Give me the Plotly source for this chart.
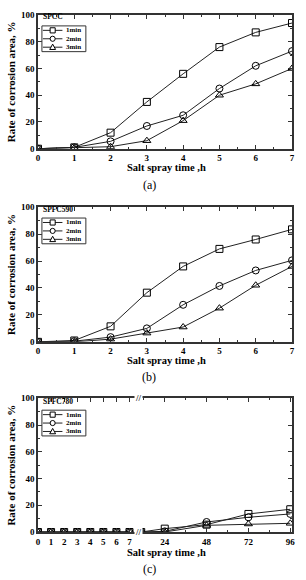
import plotly.graph_objects as go

# ---------------- data ----------------
hours = [0, 1, 2, 3, 4, 5, 6, 7]
series_names = ["1min", "2min", "3min"]

a_1min = [0, 1, 12, 35, 56, 76, 87, 94]
a_2min = [0, 1, 5.5, 17, 25, 45, 62, 73]
a_3min = [0, 0.5, 1.5, 6, 21, 40, 48.5, 60]

b_1min = [0, 1, 11.5, 36.5, 56, 69, 76, 83.5]
b_2min = [0, 0.5, 3.5, 10, 27.5, 41.5, 53, 60.5]
b_3min = [0, 0, 2, 6.5, 11, 25, 42, 56]

c_short_1min = [0, 0, 0, 0, 0, 0, 0, 0]
c_short_2min = [0, 0, 0, 0, 0, 0, 0, 0]
c_short_3min = [0, 0, 0, 0, 0, 0, 0, 0]
c_long_hours = [10.5, 24, 48, 72, 96]
c_long_1min = [0, 2.5, 5.5, 13.5, 17]
c_long_2min = [0, 0.5, 7.5, 11, 13.5]
c_long_3min = [0, 0, 5, 6, 6.5]

y_ticks = [0, 20, 40, 60, 80, 100]
x_ticks_short = [0, 1, 2, 3, 4, 5, 6, 7]
x_ticks_long = [24, 48, 72, 96]

panel_titles = ["SPCC", "SPFC590", "SPFC780"]
captions = ["(a)", "(b)", "(c)"]
x_title = "Salt spray time ,h"
y_title = "Rate of corrosion area, %"

# ---------------- style ----------------
FONT = "Liberation Serif"
symbols = ["square-open", "circle-open", "triangle-up-open"]
LINE = "#222222"
FRAME = "#333333"
W, H = 306, 580
ML, MR, MT, MB = 32, 14, 10, 48
PW, PH = W - ML - MR, H - MT - MB


def py(px):
    return (H - MB - px) / PH


def pxx(px):
    return (px - ML) / PW


dom_a = [py(145), 1.0]
dom_b = [py(340), py(204)]
dom_c = [0.0, py(397)]
split = pxx(135)

fig = go.Figure()


def add_series(xs, ys_list, xa, ya):
    for name, ys, sym in zip(series_names, ys_list, symbols):
        fig.add_trace(go.Scatter(
            x=xs, y=ys, name=name, mode="lines+markers",
            line=dict(color=LINE, width=1),
            marker=dict(symbol=sym, size=7, color="black",
                        line=dict(width=1, color="black")),
            xaxis=xa, yaxis=ya, showlegend=False))


add_series(hours, [a_1min, a_2min, a_3min], "x", "y")
add_series(hours, [b_1min, b_2min, b_3min], "x2", "y2")
add_series(hours, [c_short_1min, c_short_2min, c_short_3min], "x3", "y3")
add_series(c_long_hours, [c_long_1min, c_long_2min, c_long_3min], "x4", "y4")

tickfont = dict(family=FONT, size=9, color="black", weight="bold")
titlefont = dict(family=FONT, size=11, color="black", weight="bold")
xtitlefont = dict(family=FONT, size=10.5, color="black", weight="bold")

common_x = dict(showline=True, linecolor=FRAME, linewidth=1.5, mirror="ticks",
                ticks="inside", ticklen=4, tickcolor=FRAME, tickwidth=1,
                showgrid=False, zeroline=False, tickfont=tickfont)
common_y = dict(showline=True, linecolor=FRAME, linewidth=1.5,
                ticks="inside", ticklen=4, tickcolor=FRAME, tickwidth=1,
                showgrid=False, zeroline=False, tickfont=tickfont,
                range=[0, 100], tickvals=y_ticks,
                minor=dict(ticks="inside", ticklen=2, dtick=10, tickcolor=FRAME))

yt = dict(text=y_title, font=titlefont, standoff=3)

fig.update_layout(
    xaxis=dict(**common_x, domain=[0, 1], anchor="y", range=[0, 7], tickvals=x_ticks_short,
               minor=dict(ticks="inside", ticklen=2, dtick=0.5, tickcolor=FRAME)),
    yaxis=dict(**common_y, domain=dom_a, anchor="x", mirror="ticks", title=yt),
    xaxis2=dict(**common_x, domain=[0, 1], anchor="y2", range=[0, 7], tickvals=x_ticks_short,
                minor=dict(ticks="inside", ticklen=2, dtick=0.5, tickcolor=FRAME)),
    yaxis2=dict(**common_y, domain=dom_b, anchor="x2", mirror="ticks", title=yt),
    xaxis3=dict(**common_x, domain=[0, split], anchor="y3", range=[0, 7.7], tickvals=x_ticks_short),
    yaxis3=dict(**common_y, domain=dom_c, anchor="x3", title=yt),
    xaxis4=dict(**common_x, domain=[split, 1], anchor="y4", range=[9, 97], tickvals=x_ticks_long,
                minor=dict(ticks="inside", ticklen=2, dtick=12, tick0=0, tickcolor=FRAME)),
    yaxis4=dict(**common_y, domain=dom_c, anchor="x4", side="right", showticklabels=False),
)

# ---------------- compact legends (drawn as shapes + text) ----------------
ann = []
shapes = []
box_tops = [21, 215, 409]
row_offsets = [4.5, 13, 21.5]
BOX_L, BOX_R, BOX_H = 36, 81, 26
SEG_L, SEG_R, SYM_X, TXT_X = 37, 57, 47, 59
S = 2.6  # half symbol size, px
for title, top in zip(panel_titles, box_tops):
    ann.append(dict(text=title, x=pxx(36), y=py(top - 3.5), xref="paper", yref="paper",
                    xanchor="left", yanchor="bottom", showarrow=False, borderpad=0,
                    font=dict(family=FONT, size=7.5, color="black", weight="bold")))
    shapes.append(dict(type="rect", xref="paper", yref="paper",
                       x0=pxx(BOX_L), x1=pxx(BOX_R), y0=py(top), y1=py(top + BOX_H),
                       line=dict(color=FRAME, width=1), fillcolor="white"))
    for name, sym, off in zip(series_names, symbols, row_offsets):
        yc = top + off
        shapes.append(dict(type="line", xref="paper", yref="paper",
                           x0=pxx(SEG_L), x1=pxx(SEG_R), y0=py(yc), y1=py(yc),
                           line=dict(color=LINE, width=1)))
        if sym.startswith("square"):
            shapes.append(dict(type="rect", xref="paper", yref="paper",
                               x0=pxx(SYM_X - S), x1=pxx(SYM_X + S),
                               y0=py(yc - S), y1=py(yc + S),
                               line=dict(color="black", width=1), fillcolor="white"))
        elif sym.startswith("circle"):
            shapes.append(dict(type="circle", xref="paper", yref="paper",
                               x0=pxx(SYM_X - S), x1=pxx(SYM_X + S),
                               y0=py(yc - S), y1=py(yc + S),
                               line=dict(color="black", width=1), fillcolor="white"))
        else:
            path = "M {} {} L {} {} L {} {} Z".format(
                pxx(SYM_X - S - 0.4), py(yc + S - 0.3),
                pxx(SYM_X + S + 0.4), py(yc + S - 0.3),
                pxx(SYM_X), py(yc - S - 0.5))
            shapes.append(dict(type="path", xref="paper", yref="paper", path=path,
                               line=dict(color="black", width=1), fillcolor="white"))
        ann.append(dict(text=name, x=pxx(TXT_X), y=py(yc), xref="paper", yref="paper",
                        xanchor="left", yanchor="middle", showarrow=False,
                        font=dict(family=FONT, size=7, color="black", weight="bold")))

# x-axis titles
for p in [163.5, 358.5, 553]:
    ann.append(dict(text=x_title, x=pxx(164), y=py(p), xref="paper", yref="paper",
                    xanchor="center", yanchor="middle", showarrow=False, font=xtitlefont))

cap_px = [182, 375, 569]
for t, p in zip(captions, cap_px):
    ann.append(dict(text=t, x=pxx(146), y=py(p), xref="paper", yref="paper",
                    xanchor="center", yanchor="middle", showarrow=False,
                    font=dict(family=FONT, size=12, color="black")))
for yy in [dom_c[1], dom_c[0]]:
    ann.append(dict(text="//", x=split, y=yy, xref="paper", yref="paper",
                    xanchor="center", yanchor="middle", showarrow=False,
                    bgcolor="white", borderpad=0,
                    font=dict(family=FONT, size=9, color=FRAME, weight="bold")))
fig.update_layout(annotations=ann, shapes=shapes)

fig.update_layout(width=W, height=H, margin=dict(l=ML, r=MR, t=MT, b=MB),
                  plot_bgcolor="white", paper_bgcolor="white", showlegend=False)

fig.write_html("out.html")
